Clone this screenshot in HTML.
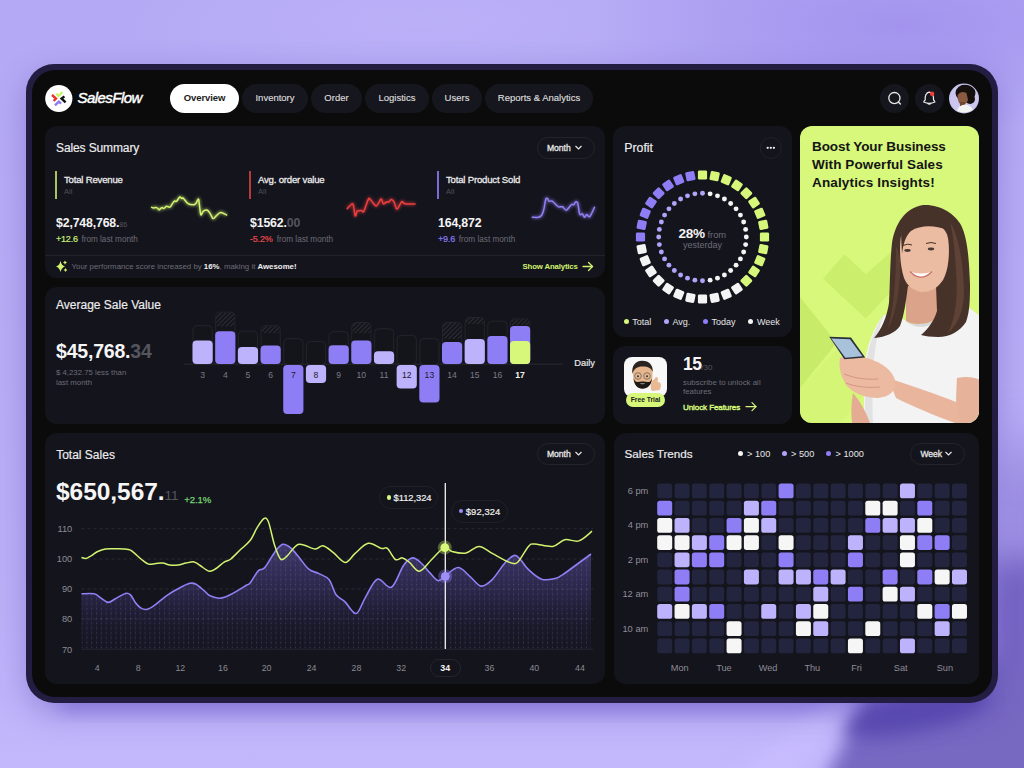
<!DOCTYPE html><html><head><meta charset="utf-8"><style>
*{margin:0;padding:0;box-sizing:border-box}
html,body{width:1024px;height:768px;overflow:hidden}
body{font-family:"Liberation Sans",sans-serif;position:relative;background:#b7acf4}
.a{position:absolute}
.card{position:absolute;background:#14141d;border-radius:12px}
.t{position:absolute;white-space:nowrap;line-height:1}
.pill{position:absolute;border-radius:15px;background:#17171f}
</style></head><body>

<div class="a" style="left:0;top:0;width:1024px;height:768px;background:linear-gradient(180deg,#b4a9f4 0%,#b8acf6 40%,#bcb0f8 80%,#c3b8fc 100%)"></div>
<div class="a" style="left:0;top:0;width:1024px;height:768px;background:radial-gradient(ellipse 320px 110px at 900px 25px,rgba(145,125,232,.5),rgba(145,125,232,0))"></div>
<div class="a" style="left:0;top:0;width:1024px;height:768px;background:radial-gradient(ellipse 300px 80px at 420px 20px,rgba(200,190,255,.35),rgba(200,190,255,0))"></div>
<svg class="a" style="left:0;top:0" width="1024" height="768"><defs>
<filter id="bgb" x="-50%" y="-50%" width="200%" height="200%"><feGaussianBlur stdDeviation="16"/></filter>
<filter id="bgb2" x="-50%" y="-50%" width="200%" height="200%"><feGaussianBlur stdDeviation="9"/></filter>
<filter id="bgb3" x="-50%" y="-50%" width="200%" height="200%"><feGaussianBlur stdDeviation="30"/></filter></defs>
<rect x="1005" y="450" width="60" height="350" fill="#8272d0" opacity=".8" filter="url(#bgb3)"/>
<rect x="990" y="560" width="60" height="240" fill="#7464c2" filter="url(#bgb)"/>
<rect x="60" y="690" width="900" height="22" fill="#9282e8" opacity=".75" filter="url(#bgb2)"/>
<path d="M865,700 L1060,640 L1060,800 L815,800 Z" fill="#7767c2" filter="url(#bgb2)"/>
<ellipse cx="915" cy="712" rx="75" ry="20" transform="rotate(-12 915 712)" fill="#5848b0" opacity=".9" filter="url(#bgb2)"/>
<path d="M700,800 L835,700 L860,703 L770,800 Z" fill="#cbbfff" opacity=".55" filter="url(#bgb2)"/>
</svg>

<div class="a" style="left:25.5px;top:64px;width:972.5px;height:639px;border-radius:28px;background:#231e41;box-shadow:0 10px 30px rgba(80,60,170,.35)"></div>
<div class="a" style="left:32px;top:70px;width:960px;height:627px;border-radius:23px;background:#0b0b0b"></div>

<svg class="a" style="left:0;top:0" width="1024" height="130">
<circle cx="58.8" cy="98.5" r="13.6" fill="#fff"/>
<g stroke-width="2.4" fill="none" stroke-linecap="butt" stroke-linejoin="miter">
<polyline points="52,95 56,98.5 53.6,101" stroke="#e8322f"/>
<polyline points="56.4,93.6 58.5,96 62.5,92" stroke="#c8f56a"/>
<polyline points="64.4,96.4 61.6,98.5 65.6,102.3" stroke="#111"/>
<polyline points="61.1,103.7 58.8,101.6 55,105.4" stroke="#8b7cf6"/>
</g>
</svg>
<div class="t" style="left:77.50px;top:90.30px;font-size:15px;color:#fff;font-weight:normal;letter-spacing:-0.55px;font-style:italic;-webkit-text-stroke:0.45px #fff;">SalesFlow</div>
<div class="pill" style="left:170px;top:84px;width:69px;height:29px;background:#fff"></div>
<div class="t" style="left:204.50px;top:93.10px;font-size:9.5px;color:#1b1b1b;font-weight:bold;letter-spacing:-0.1px;transform:translateX(-50%);">Overview</div>
<div class="pill" style="left:242px;top:84px;width:66px;height:29px;background:#16161e"></div>
<div class="t" style="left:275.00px;top:93.10px;font-size:9.5px;color:#dcdcdc;font-weight:normal;letter-spacing:0px;transform:translateX(-50%);-webkit-text-stroke:0.15px #dcdcdc;">Inventory</div>
<div class="pill" style="left:311px;top:84px;width:51px;height:29px;background:#16161e"></div>
<div class="t" style="left:336.50px;top:93.10px;font-size:9.5px;color:#dcdcdc;font-weight:normal;letter-spacing:0px;transform:translateX(-50%);-webkit-text-stroke:0.15px #dcdcdc;">Order</div>
<div class="pill" style="left:365px;top:84px;width:64px;height:29px;background:#16161e"></div>
<div class="t" style="left:397.00px;top:93.10px;font-size:9.5px;color:#dcdcdc;font-weight:normal;letter-spacing:0px;transform:translateX(-50%);-webkit-text-stroke:0.15px #dcdcdc;">Logistics</div>
<div class="pill" style="left:432px;top:84px;width:50px;height:29px;background:#16161e"></div>
<div class="t" style="left:457.00px;top:93.10px;font-size:9.5px;color:#dcdcdc;font-weight:normal;letter-spacing:0px;transform:translateX(-50%);-webkit-text-stroke:0.15px #dcdcdc;">Users</div>
<div class="pill" style="left:485px;top:84px;width:108px;height:29px;background:#16161e"></div>
<div class="t" style="left:539.00px;top:93.10px;font-size:9.5px;color:#dcdcdc;font-weight:normal;letter-spacing:0px;transform:translateX(-50%);-webkit-text-stroke:0.15px #dcdcdc;">Reports &amp; Analytics</div>
<svg class="a" style="left:0;top:0" width="1024" height="130">
<circle cx="894.5" cy="98.5" r="14.5" fill="#16161e"/>
<circle cx="929.5" cy="98.5" r="14.5" fill="#16161e"/>
<circle cx="894.4" cy="98.1" r="5.6" fill="none" stroke="#e8e8e8" stroke-width="1.3"/>
<line x1="898.6" y1="102.3" x2="900.4" y2="104.1" stroke="#e8e8e8" stroke-width="1.4" stroke-linecap="round"/>
<path d="M925.2,99.8 C924.8,96.5 926,92.3 929.3,92.1 C932.6,92.3 933.8,96.5 933.5,99.8 C934.2,100.8 935,101.2 934.8,102 C931.8,103.4 926.8,103.4 923.8,102 C923.6,101.2 924.5,100.8 925.2,99.8 Z" fill="none" stroke="#eee" stroke-width="1.2" stroke-linejoin="round"/>
<path d="M927.4,103.4 Q929.3,105 931.2,103.4" fill="none" stroke="#eee" stroke-width="1.2"/>
<circle cx="932.1" cy="93.8" r="2.3" fill="#ef3b3b"/>
<circle cx="964" cy="98.5" r="15" fill="#c5c2ea"/>
<clipPath id="avc"><circle cx="964" cy="98.5" r="14"/></clipPath>
<g clip-path="url(#avc)">
<circle cx="964" cy="98.5" r="14" fill="#cac6f0"/>
<ellipse cx="965.5" cy="93" rx="10" ry="8.5" fill="#15100d"/>
<ellipse cx="970" cy="99" rx="5" ry="5" fill="#15100d"/>
<path d="M957.5 95 Q961 90 966.5 93 L968 100 Q966 105.5 961.5 105 Q957.5 103 957.5 95Z" fill="#8a5a40"/>
<rect x="960" y="102" width="5" height="4" fill="#6f4630"/>
<path d="M956 115 Q957 105 965 104.5 Q973 105 975 115 Z" fill="#f3f3f3"/>
</g>
</svg>
<div class="card" style="left:45px;top:126px;width:560px;height:152px"></div>
<div class="card" style="left:45px;top:287px;width:560px;height:137px"></div>
<div class="card" style="left:45px;top:433px;width:560px;height:251px"></div>
<div class="card" style="left:613px;top:126px;width:179px;height:211px"></div>
<div class="card" style="left:613px;top:346px;width:179px;height:78px"></div>
<div class="card" style="left:614px;top:433px;width:365px;height:251px"></div>
<div class="t" style="left:56.00px;top:142.30px;font-size:12px;color:#ececec;font-weight:normal;letter-spacing:-0.12px;-webkit-text-stroke:0.18px #ececec;">Sales Summary</div>
<div class="pill" style="left:537px;top:137px;width:58px;height:22px;border-radius:11px;background:#14141c;border:1px solid #23232c"></div>
<div class="t" style="left:547.00px;top:144.20px;font-size:8.6px;color:#e6e6e6;font-weight:normal;letter-spacing:-0.05px;-webkit-text-stroke:0.3px #e6e6e6;">Month</div>
<svg class="a" style="left:574px;top:144px" width="10" height="8"><polyline points="1.5,2 4.5,5 7.5,2" fill="none" stroke="#e6e6e6" stroke-width="1.2"/></svg>
<div class="a" style="left:55px;top:171px;width:2px;height:28px;background:#a7c45f"></div>
<div class="t" style="left:64.00px;top:175.20px;font-size:9.6px;color:#ececec;font-weight:normal;letter-spacing:-0.2px;-webkit-text-stroke:0.28px #ececec;">Total Revenue</div>
<div class="t" style="left:64.00px;top:188.20px;font-size:7.5px;color:#4f4f58;font-weight:normal;letter-spacing:0px;">All</div>
<div class="t" style="left:56px;top:217.00px;font-size:12.3px;font-weight:bold;color:#f4f4f4;letter-spacing:-0.15px">$2,748,768.<span style="font-size:7.2px;color:#55555e;font-weight:normal;letter-spacing:0">86</span></div>
<div class="t" style="left:56.00px;top:234.70px;font-size:9px;color:#c6f27a;font-weight:normal;letter-spacing:-0.2px;-webkit-text-stroke:0.2px #c6f27a;">+12.6</div>
<div class="a" style="left:249px;top:171px;width:2px;height:28px;background:#b83b3b"></div>
<div class="t" style="left:258.00px;top:175.20px;font-size:9.6px;color:#ececec;font-weight:normal;letter-spacing:-0.2px;-webkit-text-stroke:0.28px #ececec;">Avg. order value</div>
<div class="t" style="left:258.00px;top:188.20px;font-size:7.5px;color:#4f4f58;font-weight:normal;letter-spacing:0px;">All</div>
<div class="t" style="left:250px;top:217.00px;font-size:12.3px;font-weight:bold;color:#f4f4f4;letter-spacing:-0.15px">$1562.<span style="font-size:12.3px;color:#55555e;font-weight:bold;letter-spacing:0">00</span></div>
<div class="t" style="left:250.00px;top:234.70px;font-size:9px;color:#e84848;font-weight:normal;letter-spacing:-0.2px;-webkit-text-stroke:0.2px #e84848;">-5.2%</div>
<div class="a" style="left:437px;top:171px;width:2px;height:28px;background:#7b6bd8"></div>
<div class="t" style="left:446.00px;top:175.20px;font-size:9.6px;color:#ececec;font-weight:normal;letter-spacing:-0.2px;-webkit-text-stroke:0.28px #ececec;">Total Product Sold</div>
<div class="t" style="left:446.00px;top:188.20px;font-size:7.5px;color:#4f4f58;font-weight:normal;letter-spacing:0px;">All</div>
<div class="t" style="left:438px;top:217.00px;font-size:12.3px;font-weight:bold;color:#f4f4f4;letter-spacing:-0.15px">164,872<span style="font-size:12.3px;color:#55555e;font-weight:bold;letter-spacing:0"></span></div>
<div class="t" style="left:438.00px;top:234.70px;font-size:9px;color:#8b7cf6;font-weight:normal;letter-spacing:-0.2px;-webkit-text-stroke:0.2px #8b7cf6;">+9.6</div>
<div class="t" style="left:81.40px;top:235.50px;font-size:8.2px;color:#6c6c75;font-weight:normal;letter-spacing:0px;">from last month</div>
<div class="t" style="left:276.70px;top:235.50px;font-size:8.2px;color:#6c6c75;font-weight:normal;letter-spacing:0px;">from last month</div>
<div class="t" style="left:458.80px;top:235.50px;font-size:8.2px;color:#6c6c75;font-weight:normal;letter-spacing:0px;">from last month</div>
<svg class="a" style="left:0;top:0" width="1024" height="300"><defs><filter id="glow" x="-20%" y="-50%" width="140%" height="200%"><feGaussianBlur stdDeviation="1.6"/></filter></defs>
<path d="M151.60,207.30 C151.85,207.41 152.72,207.99 153.30,208.00 C153.89,208.01 154.90,207.40 155.50,207.40 C156.10,207.40 156.78,207.64 157.30,208.00 C157.83,208.36 158.47,209.75 159.00,209.80 C159.53,209.85 160.34,208.63 160.80,208.30 C161.27,207.97 161.63,207.57 162.10,207.60 C162.56,207.63 163.24,208.69 163.90,208.50 C164.56,208.31 165.59,206.51 166.50,206.30 C167.41,206.09 169.15,207.44 170.00,207.10 C170.85,206.75 171.54,204.88 172.20,204.00 C172.86,203.12 173.74,201.62 174.40,201.20 C175.06,200.78 175.81,201.83 176.60,201.20 C177.39,200.57 178.90,197.39 179.70,197.00 C180.50,196.61 181.38,198.44 181.90,198.60 C182.43,198.76 182.28,197.35 183.20,198.10 C184.11,198.85 186.41,202.59 188.00,203.60 C189.59,204.60 192.60,204.86 193.80,204.80 C195.00,204.74 195.34,204.04 196.00,203.20 C196.66,202.36 197.75,199.47 198.20,199.20 C198.65,198.93 198.61,199.09 199.00,201.40 C199.39,203.71 200.14,213.14 200.80,214.60 C201.46,216.06 202.41,211.76 203.40,211.10 C204.39,210.44 206.34,209.73 207.40,210.20 C208.47,210.66 209.65,212.94 210.50,214.20 C211.35,215.46 212.25,218.34 213.10,218.60 C213.95,218.85 215.07,216.83 216.20,215.90 C217.32,214.97 219.03,212.53 220.60,212.40 C222.17,212.27 225.78,214.61 226.70,215.00" fill="none" stroke="#d2f36f" stroke-width="3.2" stroke-opacity=".5" filter="url(#glow)" stroke-linejoin="round"/>
<path d="M151.60,207.30 C151.85,207.41 152.72,207.99 153.30,208.00 C153.89,208.01 154.90,207.40 155.50,207.40 C156.10,207.40 156.78,207.64 157.30,208.00 C157.83,208.36 158.47,209.75 159.00,209.80 C159.53,209.85 160.34,208.63 160.80,208.30 C161.27,207.97 161.63,207.57 162.10,207.60 C162.56,207.63 163.24,208.69 163.90,208.50 C164.56,208.31 165.59,206.51 166.50,206.30 C167.41,206.09 169.15,207.44 170.00,207.10 C170.85,206.75 171.54,204.88 172.20,204.00 C172.86,203.12 173.74,201.62 174.40,201.20 C175.06,200.78 175.81,201.83 176.60,201.20 C177.39,200.57 178.90,197.39 179.70,197.00 C180.50,196.61 181.38,198.44 181.90,198.60 C182.43,198.76 182.28,197.35 183.20,198.10 C184.11,198.85 186.41,202.59 188.00,203.60 C189.59,204.60 192.60,204.86 193.80,204.80 C195.00,204.74 195.34,204.04 196.00,203.20 C196.66,202.36 197.75,199.47 198.20,199.20 C198.65,198.93 198.61,199.09 199.00,201.40 C199.39,203.71 200.14,213.14 200.80,214.60 C201.46,216.06 202.41,211.76 203.40,211.10 C204.39,210.44 206.34,209.73 207.40,210.20 C208.47,210.66 209.65,212.94 210.50,214.20 C211.35,215.46 212.25,218.34 213.10,218.60 C213.95,218.85 215.07,216.83 216.20,215.90 C217.32,214.97 219.03,212.53 220.60,212.40 C222.17,212.27 225.78,214.61 226.70,215.00" fill="none" stroke="#d2f36f" stroke-width="1.5" stroke-linejoin="round" stroke-linecap="round"/>
<path d="M347.20,208.60 C347.88,207.92 350.77,204.61 351.70,204.10 C352.63,203.59 352.88,203.44 353.40,205.20 C353.92,206.95 354.63,214.92 355.20,215.80 C355.77,216.69 356.56,211.87 357.20,211.10 C357.84,210.33 358.86,210.79 359.50,210.70 C360.14,210.61 360.86,210.41 361.50,210.50 C362.14,210.59 362.75,213.03 363.80,211.30 C364.85,209.58 367.44,200.66 368.50,199.00 C369.56,197.34 369.73,199.15 370.90,200.20 C372.07,201.25 374.79,206.18 376.30,206.00 C377.81,205.82 379.94,199.31 381.00,199.00 C382.06,198.69 382.51,203.50 383.40,203.90 C384.28,204.31 386.09,201.97 386.90,201.70 C387.71,201.43 388.16,202.44 388.80,202.10 C389.44,201.75 390.44,199.46 391.20,199.40 C391.96,199.34 393.03,200.25 393.90,201.70 C394.77,203.15 395.83,209.10 397.00,209.10 C398.17,209.10 400.53,202.51 401.70,201.70 C402.87,200.89 402.81,203.37 404.80,203.70 C406.80,204.03 413.47,203.87 415.00,203.90" fill="none" stroke="#f03e3e" stroke-width="3.2" stroke-opacity=".5" filter="url(#glow)" stroke-linejoin="round"/>
<path d="M347.20,208.60 C347.88,207.92 350.77,204.61 351.70,204.10 C352.63,203.59 352.88,203.44 353.40,205.20 C353.92,206.95 354.63,214.92 355.20,215.80 C355.77,216.69 356.56,211.87 357.20,211.10 C357.84,210.33 358.86,210.79 359.50,210.70 C360.14,210.61 360.86,210.41 361.50,210.50 C362.14,210.59 362.75,213.03 363.80,211.30 C364.85,209.58 367.44,200.66 368.50,199.00 C369.56,197.34 369.73,199.15 370.90,200.20 C372.07,201.25 374.79,206.18 376.30,206.00 C377.81,205.82 379.94,199.31 381.00,199.00 C382.06,198.69 382.51,203.50 383.40,203.90 C384.28,204.31 386.09,201.97 386.90,201.70 C387.71,201.43 388.16,202.44 388.80,202.10 C389.44,201.75 390.44,199.46 391.20,199.40 C391.96,199.34 393.03,200.25 393.90,201.70 C394.77,203.15 395.83,209.10 397.00,209.10 C398.17,209.10 400.53,202.51 401.70,201.70 C402.87,200.89 402.81,203.37 404.80,203.70 C406.80,204.03 413.47,203.87 415.00,203.90" fill="none" stroke="#f03e3e" stroke-width="1.5" stroke-linejoin="round" stroke-linecap="round"/>
<path d="M532.20,217.30 C533.18,217.30 537.26,217.65 538.70,217.30 C540.14,216.96 541.03,216.17 541.80,215.00 C542.56,213.83 543.21,211.84 543.80,209.50 C544.38,207.16 545.18,201.06 545.70,199.40 C546.23,197.74 546.77,198.12 547.30,198.40 C547.82,198.69 548.45,200.90 549.20,201.30 C549.95,201.71 550.95,200.31 552.30,201.10 C553.65,201.89 556.67,205.75 558.20,206.60 C559.73,207.45 561.27,206.26 562.50,206.80 C563.73,207.34 565.05,210.54 566.40,210.20 C567.75,209.85 570.39,205.31 571.50,204.50 C572.61,203.69 573.21,205.16 573.80,204.80 C574.38,204.44 574.81,202.38 575.40,202.10 C575.99,201.81 577.06,201.09 577.70,202.90 C578.35,204.72 579.00,212.56 579.70,214.20 C580.41,215.83 581.68,213.34 582.40,213.80 C583.12,214.27 583.86,217.18 584.50,217.30 C585.14,217.42 585.91,214.70 586.70,214.60 C587.50,214.50 588.63,217.71 589.80,216.60 C590.97,215.49 593.79,208.61 594.50,207.20" fill="none" stroke="#8f80f5" stroke-width="3.2" stroke-opacity=".5" filter="url(#glow)" stroke-linejoin="round"/>
<path d="M532.20,217.30 C533.18,217.30 537.26,217.65 538.70,217.30 C540.14,216.96 541.03,216.17 541.80,215.00 C542.56,213.83 543.21,211.84 543.80,209.50 C544.38,207.16 545.18,201.06 545.70,199.40 C546.23,197.74 546.77,198.12 547.30,198.40 C547.82,198.69 548.45,200.90 549.20,201.30 C549.95,201.71 550.95,200.31 552.30,201.10 C553.65,201.89 556.67,205.75 558.20,206.60 C559.73,207.45 561.27,206.26 562.50,206.80 C563.73,207.34 565.05,210.54 566.40,210.20 C567.75,209.85 570.39,205.31 571.50,204.50 C572.61,203.69 573.21,205.16 573.80,204.80 C574.38,204.44 574.81,202.38 575.40,202.10 C575.99,201.81 577.06,201.09 577.70,202.90 C578.35,204.72 579.00,212.56 579.70,214.20 C580.41,215.83 581.68,213.34 582.40,213.80 C583.12,214.27 583.86,217.18 584.50,217.30 C585.14,217.42 585.91,214.70 586.70,214.60 C587.50,214.50 588.63,217.71 589.80,216.60 C590.97,215.49 593.79,208.61 594.50,207.20" fill="none" stroke="#8f80f5" stroke-width="1.5" stroke-linejoin="round" stroke-linecap="round"/>
<path d="M60.5 261 Q61.5 265.5 65 266.5 Q61.5 267.5 60.5 272 Q59.5 267.5 56 266.5 Q59.5 265.5 60.5 261Z" fill="#d2f36f"/>
<path d="M65 260.5 Q65.4 262.2 67 262.6 Q65.4 263 65 264.7 Q64.6 263 63 262.6 Q64.6 262.2 65 260.5Z" fill="#d2f36f"/>
<path d="M65.5 268 Q65.9 269.6 67.4 270 Q65.9 270.4 65.5 272 Q65.1 270.4 63.6 270 Q65.1 269.6 65.5 268Z" fill="#d2f36f"/>
<g fill="none" stroke="#d2f36f" stroke-width="1.3" stroke-linecap="round" stroke-linejoin="round"><line x1="583" y1="266.5" x2="592.5" y2="266.5"/><polyline points="588.5,262.5 592.5,266.5 588.5,270.5"/></g>
</svg>
<div class="a" style="left:45px;top:255px;width:560px;height:1px;background:#22222b"></div>
<div class="t" style="left:71.6px;top:263.30px;font-size:7.85px;color:#6c6c75">Your performance score increased by <b style="color:#f0f0f0">16%</b>, making it <b style="color:#f0f0f0">Awesome!</b></div>
<div class="t" style="left:522.50px;top:263.30px;font-size:7.8px;color:#d2f36f;font-weight:bold;letter-spacing:-0.15px;">Show Analytics</div>
<div class="t" style="left:56.00px;top:299.20px;font-size:12px;color:#ececec;font-weight:normal;letter-spacing:0px;-webkit-text-stroke:0.18px #ececec;">Average Sale Value</div>
<div class="t" style="left:56px;top:341.90px;font-size:19.5px;font-weight:bold;color:#f6f6f6;letter-spacing:-0.2px">$45,768.<span style="color:#55555e">34</span></div>
<div class="t" style="left:56.00px;top:368.90px;font-size:7.8px;color:#6c6c75;font-weight:normal;letter-spacing:0px;">$ 4,232.75 less than</div>
<div class="t" style="left:56.00px;top:379.20px;font-size:7.8px;color:#6c6c75;font-weight:normal;letter-spacing:0px;">last month</div>
<svg class="a" style="left:0;top:280px" width="620" height="150"><defs><pattern id="hat" width="3.2" height="3.2" patternUnits="userSpaceOnUse" patternTransform="rotate(45)"><rect width="3.2" height="3.2" fill="#14141b"/><rect width="1" height="3.2" fill="#2e2e37"/></pattern></defs>
<line x1="184" y1="84.1" x2="563" y2="84.1" stroke="#2a2a33" stroke-width="1"/>
<rect x="193.00" y="45.70" width="19.20" height="38.80" rx="4" fill="#14141b" stroke="#24242c" stroke-width="1"/>
<rect x="192.50" y="60.50" width="20.20" height="23.50" rx="4" fill="#bdb2fc"/>
<rect x="215.68" y="32.20" width="19.20" height="52.30" rx="4" fill="#14141b" stroke="#24242c" stroke-width="1"/>
<clipPath id="hc4"><rect x="216.18" y="32.70" width="18.20" height="14.00" rx="3.5"/></clipPath><rect x="215.18" y="31.70" width="20.20" height="15.00" fill="url(#hat)" clip-path="url(#hc4)"/>
<rect x="215.18" y="51.20" width="20.20" height="32.80" rx="4" fill="#8d7ef6"/>
<rect x="238.36" y="51.20" width="19.20" height="33.30" rx="4" fill="#14141b" stroke="#24242c" stroke-width="1"/>
<rect x="237.86" y="66.90" width="20.20" height="17.10" rx="4" fill="#bdb2fc"/>
<rect x="261.04" y="45.70" width="19.20" height="38.80" rx="4" fill="#14141b" stroke="#24242c" stroke-width="1"/>
<clipPath id="hc6"><rect x="261.54" y="46.20" width="18.20" height="7.20" rx="3.5"/></clipPath><rect x="260.54" y="45.20" width="20.20" height="8.20" fill="url(#hat)" clip-path="url(#hc6)"/>
<rect x="260.54" y="65.40" width="20.20" height="18.60" rx="4" fill="#8d7ef6"/>
<rect x="283.72" y="58.70" width="19.20" height="25.80" rx="4" fill="#14141b" stroke="#24242c" stroke-width="1"/>
<rect x="283.22" y="84.90" width="20.20" height="49.10" rx="4" fill="#8d7ef6"/>
<rect x="306.40" y="61.40" width="19.20" height="23.10" rx="4" fill="#14141b" stroke="#24242c" stroke-width="1"/>
<rect x="305.90" y="84.90" width="20.20" height="18.20" rx="4" fill="#bdb2fc"/>
<rect x="329.08" y="51.70" width="19.20" height="32.80" rx="4" fill="#14141b" stroke="#24242c" stroke-width="1"/>
<rect x="328.58" y="65.30" width="20.20" height="18.70" rx="4" fill="#8d7ef6"/>
<rect x="351.76" y="42.50" width="19.20" height="42.00" rx="4" fill="#14141b" stroke="#24242c" stroke-width="1"/>
<clipPath id="hc10"><rect x="352.26" y="43.00" width="18.20" height="10.40" rx="3.5"/></clipPath><rect x="351.26" y="42.00" width="20.20" height="11.40" fill="url(#hat)" clip-path="url(#hc10)"/>
<rect x="351.26" y="60.50" width="20.20" height="23.50" rx="4" fill="#8d7ef6"/>
<rect x="374.44" y="48.80" width="19.20" height="35.70" rx="4" fill="#14141b" stroke="#24242c" stroke-width="1"/>
<rect x="373.94" y="71.30" width="20.20" height="12.70" rx="4" fill="#bdb2fc"/>
<rect x="397.12" y="55.30" width="19.20" height="29.20" rx="4" fill="#14141b" stroke="#24242c" stroke-width="1"/>
<rect x="396.62" y="84.90" width="20.20" height="23.50" rx="4" fill="#bdb2fc"/>
<rect x="419.80" y="58.70" width="19.20" height="25.80" rx="4" fill="#14141b" stroke="#24242c" stroke-width="1"/>
<rect x="419.30" y="84.90" width="20.20" height="37.60" rx="4" fill="#8d7ef6"/>
<rect x="442.48" y="42.50" width="19.20" height="42.00" rx="4" fill="#14141b" stroke="#24242c" stroke-width="1"/>
<clipPath id="hc14"><rect x="442.98" y="43.00" width="18.20" height="16.00" rx="3.5"/></clipPath><rect x="441.98" y="42.00" width="20.20" height="17.00" fill="url(#hat)" clip-path="url(#hc14)"/>
<rect x="441.98" y="61.90" width="20.20" height="22.10" rx="4" fill="#8d7ef6"/>
<rect x="465.16" y="37.50" width="19.20" height="47.00" rx="4" fill="#14141b" stroke="#24242c" stroke-width="1"/>
<clipPath id="hc15"><rect x="465.66" y="38.00" width="18.20" height="6.00" rx="3.5"/></clipPath><rect x="464.66" y="37.00" width="20.20" height="7.00" fill="url(#hat)" clip-path="url(#hc15)"/>
<rect x="464.66" y="59.00" width="20.20" height="25.00" rx="4" fill="#bdb2fc"/>
<rect x="487.84" y="41.20" width="19.20" height="43.30" rx="4" fill="#14141b" stroke="#24242c" stroke-width="1"/>
<rect x="487.34" y="56.00" width="20.20" height="28.00" rx="4" fill="#8d7ef6"/>
<rect x="510.52" y="38.90" width="19.20" height="45.60" rx="4" fill="#14141b" stroke="#24242c" stroke-width="1"/>
<clipPath id="hc17"><rect x="511.02" y="39.40" width="18.20" height="6.10" rx="3.5"/></clipPath><rect x="510.02" y="38.40" width="20.20" height="7.10" fill="url(#hat)" clip-path="url(#hc17)"/>
<rect x="510.02" y="46.00" width="20.20" height="38.00" rx="4" fill="#8d7ef6"/>
<rect x="510.02" y="61.00" width="20.20" height="23.00" rx="4" fill="#d6f77a"/>
</svg>
<div class="t" style="left:202.60px;top:371.00px;font-size:8.6px;color:#7b7b84;font-weight:normal;letter-spacing:0px;transform:translateX(-50%);">3</div>
<div class="t" style="left:225.28px;top:371.00px;font-size:8.6px;color:#7b7b84;font-weight:normal;letter-spacing:0px;transform:translateX(-50%);">4</div>
<div class="t" style="left:247.96px;top:371.00px;font-size:8.6px;color:#7b7b84;font-weight:normal;letter-spacing:0px;transform:translateX(-50%);">5</div>
<div class="t" style="left:270.64px;top:371.00px;font-size:8.6px;color:#7b7b84;font-weight:normal;letter-spacing:0px;transform:translateX(-50%);">6</div>
<div class="t" style="left:293.32px;top:371.00px;font-size:8.6px;color:#1d1d28;font-weight:normal;letter-spacing:0px;transform:translateX(-50%);">7</div>
<div class="t" style="left:316.00px;top:371.00px;font-size:8.6px;color:#1d1d28;font-weight:normal;letter-spacing:0px;transform:translateX(-50%);">8</div>
<div class="t" style="left:338.68px;top:371.00px;font-size:8.6px;color:#7b7b84;font-weight:normal;letter-spacing:0px;transform:translateX(-50%);">9</div>
<div class="t" style="left:361.36px;top:371.00px;font-size:8.6px;color:#7b7b84;font-weight:normal;letter-spacing:0px;transform:translateX(-50%);">10</div>
<div class="t" style="left:384.04px;top:371.00px;font-size:8.6px;color:#7b7b84;font-weight:normal;letter-spacing:0px;transform:translateX(-50%);">11</div>
<div class="t" style="left:406.72px;top:371.00px;font-size:8.6px;color:#1d1d28;font-weight:normal;letter-spacing:0px;transform:translateX(-50%);">12</div>
<div class="t" style="left:429.40px;top:371.00px;font-size:8.6px;color:#1d1d28;font-weight:normal;letter-spacing:0px;transform:translateX(-50%);">13</div>
<div class="t" style="left:452.08px;top:371.00px;font-size:8.6px;color:#7b7b84;font-weight:normal;letter-spacing:0px;transform:translateX(-50%);">14</div>
<div class="t" style="left:474.76px;top:371.00px;font-size:8.6px;color:#7b7b84;font-weight:normal;letter-spacing:0px;transform:translateX(-50%);">15</div>
<div class="t" style="left:497.44px;top:371.00px;font-size:8.6px;color:#7b7b84;font-weight:normal;letter-spacing:0px;transform:translateX(-50%);">16</div>
<div class="t" style="left:520.12px;top:371.00px;font-size:8.6px;color:#f4f4f4;font-weight:bold;letter-spacing:0px;transform:translateX(-50%);">17</div>
<div class="t" style="left:574.30px;top:359.30px;font-size:9.3px;color:#e6e6e6;font-weight:normal;letter-spacing:0px;-webkit-text-stroke:0.2px #e6e6e6;">Daily</div>
<div class="t" style="left:624.30px;top:142.00px;font-size:12.3px;color:#ececec;font-weight:normal;letter-spacing:0px;-webkit-text-stroke:0.18px #ececec;">Profit</div>
<svg class="a" style="left:600px;top:120px" width="200" height="220">
<circle cx="170.8" cy="28" r="10.5" fill="none" stroke="#22222a" stroke-width="1"/>
<circle cx="167.70000000000002" cy="27.8" r="1.15" fill="#eee"/>
<circle cx="170.8" cy="27.8" r="1.15" fill="#eee"/>
<circle cx="173.9" cy="27.8" r="1.15" fill="#eee"/>
<rect x="-4.6" y="-4.6" width="9.2" height="9.2" rx="1.4" fill="#d6f77a" transform="translate(102.50,55.00) rotate(0.0)"/>
<rect x="-4.6" y="-4.6" width="9.2" height="9.2" rx="1.4" fill="#d6f77a" transform="translate(114.60,56.19) rotate(11.25)"/>
<rect x="-4.6" y="-4.6" width="9.2" height="9.2" rx="1.4" fill="#d6f77a" transform="translate(126.23,59.72) rotate(22.5)"/>
<rect x="-4.6" y="-4.6" width="9.2" height="9.2" rx="1.4" fill="#d6f77a" transform="translate(136.95,65.45) rotate(33.75)"/>
<rect x="-4.6" y="-4.6" width="9.2" height="9.2" rx="1.4" fill="#d6f77a" transform="translate(146.34,73.16) rotate(45.0)"/>
<rect x="-4.6" y="-4.6" width="9.2" height="9.2" rx="1.4" fill="#d6f77a" transform="translate(154.05,82.55) rotate(56.25)"/>
<rect x="-4.6" y="-4.6" width="9.2" height="9.2" rx="1.4" fill="#d6f77a" transform="translate(159.78,93.27) rotate(67.5)"/>
<rect x="-4.6" y="-4.6" width="9.2" height="9.2" rx="1.4" fill="#d6f77a" transform="translate(163.31,104.90) rotate(78.75)"/>
<rect x="-4.6" y="-4.6" width="9.2" height="9.2" rx="1.4" fill="#d6f77a" transform="translate(164.50,117.00) rotate(90.0)"/>
<rect x="-4.6" y="-4.6" width="9.2" height="9.2" rx="1.4" fill="#d6f77a" transform="translate(163.31,129.10) rotate(101.25)"/>
<rect x="-4.6" y="-4.6" width="9.2" height="9.2" rx="1.4" fill="#d6f77a" transform="translate(159.78,140.73) rotate(112.5)"/>
<rect x="-4.6" y="-4.6" width="9.2" height="9.2" rx="1.4" fill="#d6f77a" transform="translate(154.05,151.45) rotate(123.75)"/>
<rect x="-4.6" y="-4.6" width="9.2" height="9.2" rx="1.4" fill="#d6f77a" transform="translate(146.34,160.84) rotate(135.0)"/>
<rect x="-4.6" y="-4.6" width="9.2" height="9.2" rx="1.4" fill="#f4f4f4" transform="translate(136.95,168.55) rotate(146.25)"/>
<rect x="-4.6" y="-4.6" width="9.2" height="9.2" rx="1.4" fill="#f4f4f4" transform="translate(126.23,174.28) rotate(157.5)"/>
<rect x="-4.6" y="-4.6" width="9.2" height="9.2" rx="1.4" fill="#f4f4f4" transform="translate(114.60,177.81) rotate(168.75)"/>
<rect x="-4.6" y="-4.6" width="9.2" height="9.2" rx="1.4" fill="#f4f4f4" transform="translate(102.50,179.00) rotate(180.0)"/>
<rect x="-4.6" y="-4.6" width="9.2" height="9.2" rx="1.4" fill="#f4f4f4" transform="translate(90.40,177.81) rotate(191.25)"/>
<rect x="-4.6" y="-4.6" width="9.2" height="9.2" rx="1.4" fill="#f4f4f4" transform="translate(78.77,174.28) rotate(202.5)"/>
<rect x="-4.6" y="-4.6" width="9.2" height="9.2" rx="1.4" fill="#f4f4f4" transform="translate(68.05,168.55) rotate(213.75)"/>
<rect x="-4.6" y="-4.6" width="9.2" height="9.2" rx="1.4" fill="#f4f4f4" transform="translate(58.66,160.84) rotate(225.0)"/>
<rect x="-4.6" y="-4.6" width="9.2" height="9.2" rx="1.4" fill="#f4f4f4" transform="translate(50.95,151.45) rotate(236.25)"/>
<rect x="-4.6" y="-4.6" width="9.2" height="9.2" rx="1.4" fill="#f4f4f4" transform="translate(45.22,140.73) rotate(247.5)"/>
<rect x="-4.6" y="-4.6" width="9.2" height="9.2" rx="1.4" fill="#f4f4f4" transform="translate(41.69,129.10) rotate(258.75)"/>
<rect x="-4.6" y="-4.6" width="9.2" height="9.2" rx="1.4" fill="#8d7ef6" transform="translate(40.50,117.00) rotate(270.0)"/>
<rect x="-4.6" y="-4.6" width="9.2" height="9.2" rx="1.4" fill="#8d7ef6" transform="translate(41.69,104.90) rotate(281.25)"/>
<rect x="-4.6" y="-4.6" width="9.2" height="9.2" rx="1.4" fill="#8d7ef6" transform="translate(45.22,93.27) rotate(292.5)"/>
<rect x="-4.6" y="-4.6" width="9.2" height="9.2" rx="1.4" fill="#8d7ef6" transform="translate(50.95,82.55) rotate(303.75)"/>
<rect x="-4.6" y="-4.6" width="9.2" height="9.2" rx="1.4" fill="#8d7ef6" transform="translate(58.66,73.16) rotate(315.0)"/>
<rect x="-4.6" y="-4.6" width="9.2" height="9.2" rx="1.4" fill="#8d7ef6" transform="translate(68.05,65.45) rotate(326.25)"/>
<rect x="-4.6" y="-4.6" width="9.2" height="9.2" rx="1.4" fill="#8d7ef6" transform="translate(78.77,59.72) rotate(337.5)"/>
<rect x="-4.6" y="-4.6" width="9.2" height="9.2" rx="1.4" fill="#8d7ef6" transform="translate(90.40,56.19) rotate(348.75)"/>
<circle cx="102.50" cy="73.20" r="2.45" fill="#b0a3fa"/>
<circle cx="110.11" cy="73.87" r="2.45" fill="#f4f4f4"/>
<circle cx="117.48" cy="75.84" r="2.45" fill="#f4f4f4"/>
<circle cx="124.40" cy="79.07" r="2.45" fill="#f4f4f4"/>
<circle cx="130.65" cy="83.45" r="2.45" fill="#f4f4f4"/>
<circle cx="136.05" cy="88.85" r="2.45" fill="#f4f4f4"/>
<circle cx="140.43" cy="95.10" r="2.45" fill="#f4f4f4"/>
<circle cx="143.66" cy="102.02" r="2.45" fill="#f4f4f4"/>
<circle cx="145.63" cy="109.39" r="2.45" fill="#f4f4f4"/>
<circle cx="146.30" cy="117.00" r="2.45" fill="#f4f4f4"/>
<circle cx="145.63" cy="124.61" r="2.45" fill="#f4f4f4"/>
<circle cx="143.66" cy="131.98" r="2.45" fill="#f4f4f4"/>
<circle cx="140.43" cy="138.90" r="2.45" fill="#f4f4f4"/>
<circle cx="136.05" cy="145.15" r="2.45" fill="#f4f4f4"/>
<circle cx="130.65" cy="150.55" r="2.45" fill="#f4f4f4"/>
<circle cx="124.40" cy="154.93" r="2.45" fill="#f4f4f4"/>
<circle cx="117.48" cy="158.16" r="2.45" fill="#f4f4f4"/>
<circle cx="110.11" cy="160.13" r="2.45" fill="#f4f4f4"/>
<circle cx="102.50" cy="160.80" r="2.45" fill="#b0a3fa"/>
<circle cx="94.89" cy="160.13" r="2.45" fill="#b0a3fa"/>
<circle cx="87.52" cy="158.16" r="2.45" fill="#b0a3fa"/>
<circle cx="80.60" cy="154.93" r="2.45" fill="#b0a3fa"/>
<circle cx="74.35" cy="150.55" r="2.45" fill="#b0a3fa"/>
<circle cx="68.95" cy="145.15" r="2.45" fill="#b0a3fa"/>
<circle cx="64.57" cy="138.90" r="2.45" fill="#b0a3fa"/>
<circle cx="61.34" cy="131.98" r="2.45" fill="#b0a3fa"/>
<circle cx="59.37" cy="124.61" r="2.45" fill="#b0a3fa"/>
<circle cx="58.70" cy="117.00" r="2.45" fill="#b0a3fa"/>
<circle cx="59.37" cy="109.39" r="2.45" fill="#b0a3fa"/>
<circle cx="61.34" cy="102.02" r="2.45" fill="#b0a3fa"/>
<circle cx="64.57" cy="95.10" r="2.45" fill="#b0a3fa"/>
<circle cx="68.95" cy="88.85" r="2.45" fill="#b0a3fa"/>
<circle cx="74.35" cy="83.45" r="2.45" fill="#b0a3fa"/>
<circle cx="80.60" cy="79.07" r="2.45" fill="#b0a3fa"/>
<circle cx="87.52" cy="75.84" r="2.45" fill="#b0a3fa"/>
<circle cx="94.89" cy="73.87" r="2.45" fill="#b0a3fa"/>
</svg>
<div class="t" style="left:678.5px;top:226.80px;font-size:13.6px;font-weight:bold;color:#f4f4f4;letter-spacing:-0.3px">28%<span style="font-size:9.4px;font-weight:normal;color:#6c6c75;letter-spacing:0"> from</span></div>
<div class="t" style="left:702.50px;top:240.50px;font-size:9px;color:#6c6c75;font-weight:normal;letter-spacing:0px;transform:translateX(-50%);">yesterday</div>
<div class="a" style="left:624px;top:319px;width:5px;height:5px;border-radius:50%;background:#d6f77a"></div>
<div class="t" style="left:632.30px;top:317.60px;font-size:9px;color:#e6e6e6;font-weight:normal;letter-spacing:0px;">Total</div>
<div class="a" style="left:664px;top:319px;width:5px;height:5px;border-radius:50%;background:#b0a3fa"></div>
<div class="t" style="left:672.40px;top:317.60px;font-size:9px;color:#e6e6e6;font-weight:normal;letter-spacing:0px;">Avg.</div>
<div class="a" style="left:703px;top:319px;width:5px;height:5px;border-radius:50%;background:#8d7ef6"></div>
<div class="t" style="left:711.40px;top:317.60px;font-size:9px;color:#e6e6e6;font-weight:normal;letter-spacing:0px;">Today</div>
<div class="a" style="left:748px;top:319px;width:5px;height:5px;border-radius:50%;background:#f4f4f4"></div>
<div class="t" style="left:757.00px;top:317.60px;font-size:9px;color:#e6e6e6;font-weight:normal;letter-spacing:0px;">Week</div>
<div class="a" style="left:624px;top:357px;width:43.3px;height:39.6px;border-radius:8px;background:#f8f8f8;overflow:hidden"><svg width="44" height="40"><path d="M9 18 C8.5 10 12 5 18.5 4.8 C25 4.6 28.8 9 28.6 17 C28.5 26 25 31.5 18.5 31.5 C12 31.5 9.3 26 9 18Z" fill="#e8b68c"/><path d="M8.4 17 C7.5 9 11 4 18 3.8 C25 3.6 29 8 28.8 15 C27 11 24 9.5 18.5 9.6 C13 9.7 10 11.5 8.4 17Z" fill="#2a2320"/><path d="M9.6 21 C10 28 13.5 31.8 18.5 31.8 C23.5 31.8 27.6 28 28.2 21 C27 24.5 25 25.5 23 25 C21 24.2 16 24.2 14 25 C12 25.5 10.5 24 9.6 21Z" fill="#1d1917"/><path d="M15.5 26.3 Q18.5 28 21.5 26.3 Q18.5 26.9 15.5 26.3Z" fill="#f3e0d0"/><circle cx="14" cy="19" r="3.3" fill="none" stroke="#666" stroke-width="0.8"/><circle cx="23" cy="19" r="3.3" fill="none" stroke="#666" stroke-width="0.8"/><circle cx="14" cy="19.3" r="1" fill="#333"/><circle cx="23" cy="19.3" r="1" fill="#333"/><path d="M27 27 C27 24 29 23.5 30 22.5 C31 21 31.5 19.5 33 20 C34.5 20.5 34 23 33.5 25 L36 25.5 C37.5 27 37 31 35.5 33 L28 34 C26.5 32 26.5 29 27 27Z" fill="#e9b994"/></svg></div>
<div class="a" style="left:626px;top:393.2px;width:38.8px;height:13.5px;border-radius:7px;background:#d6f77a"></div>
<div class="t" style="left:645.60px;top:397.00px;font-size:6.8px;color:#1e1e1e;font-weight:bold;letter-spacing:-0.05px;transform:translateX(-50%);">Free Trial</div>
<div class="t" style="left:683px;top:356.00px;font-size:17.5px;font-weight:bold;color:#f6f6f6;letter-spacing:-0.6px">15<span style="font-size:8px;font-weight:normal;color:#55555e;letter-spacing:0">/30</span></div>
<div class="t" style="left:683.00px;top:378.60px;font-size:7.9px;color:#6c6c75;font-weight:normal;letter-spacing:0px;">subscribe to unlock all</div>
<div class="t" style="left:683.00px;top:388.00px;font-size:7.9px;color:#6c6c75;font-weight:normal;letter-spacing:0px;">features</div>
<div class="t" style="left:683.00px;top:403.80px;font-size:8.1px;color:#d6f77a;font-weight:normal;letter-spacing:-0.12px;-webkit-text-stroke:0.4px #d6f77a;">Unlock Features</div>
<svg class="a" style="left:743px;top:400px" width="20" height="14"><g fill="none" stroke="#d6f77a" stroke-width="1.3" stroke-linecap="round" stroke-linejoin="round"><line x1="3" y1="6.6" x2="13" y2="6.6"/><polyline points="9,2.6 13,6.6 9,10.6"/></g></svg>
<div class="t" style="left:624.50px;top:447.80px;font-size:11.7px;color:#ececec;font-weight:normal;letter-spacing:0px;-webkit-text-stroke:0.18px #ececec;">Sales Trends</div>
<div class="a" style="left:738px;top:451px;width:5px;height:5px;border-radius:50%;background:#f4f4f4"></div>
<div class="t" style="left:747.00px;top:450.00px;font-size:9.2px;color:#e6e6e6;font-weight:normal;letter-spacing:0px;">&gt; 100</div>
<div class="a" style="left:782px;top:451px;width:5px;height:5px;border-radius:50%;background:#b0a3fa"></div>
<div class="t" style="left:791.00px;top:450.00px;font-size:9.2px;color:#e6e6e6;font-weight:normal;letter-spacing:0px;">&gt; 500</div>
<div class="a" style="left:826px;top:451px;width:5px;height:5px;border-radius:50%;background:#8d7ef6"></div>
<div class="t" style="left:835.60px;top:450.00px;font-size:9.2px;color:#e6e6e6;font-weight:normal;letter-spacing:0px;">&gt; 1000</div>
<div class="pill" style="left:910px;top:443px;width:55px;height:22px;border-radius:11px;background:#14141c;border:1px solid #23232c"></div>
<div class="t" style="left:920.50px;top:450.00px;font-size:8.6px;color:#e6e6e6;font-weight:normal;letter-spacing:-0.1px;-webkit-text-stroke:0.3px #e6e6e6;">Week</div>
<svg class="a" style="left:944px;top:450px" width="10" height="8"><polyline points="1.5,2 4.5,5 7.5,2" fill="none" stroke="#e6e6e6" stroke-width="1.2"/></svg>
<svg class="a" style="left:640px;top:470px" width="340" height="200">
<rect x="17.20" y="13.50" width="15" height="14.8" rx="2.6" fill="#23243d"/>
<rect x="34.54" y="13.50" width="15" height="14.8" rx="2.6" fill="#23243d"/>
<rect x="51.88" y="13.50" width="15" height="14.8" rx="2.6" fill="#23243d"/>
<rect x="69.22" y="13.50" width="15" height="14.8" rx="2.6" fill="#23243d"/>
<rect x="86.56" y="13.50" width="15" height="14.8" rx="2.6" fill="#23243d"/>
<rect x="103.90" y="13.50" width="15" height="14.8" rx="2.6" fill="#23243d"/>
<rect x="121.24" y="13.50" width="15" height="14.8" rx="2.6" fill="#23243d"/>
<rect x="138.58" y="13.50" width="15" height="14.8" rx="2.6" fill="#8d7ef6"/>
<rect x="155.92" y="13.50" width="15" height="14.8" rx="2.6" fill="#23243d"/>
<rect x="173.26" y="13.50" width="15" height="14.8" rx="2.6" fill="#23243d"/>
<rect x="190.60" y="13.50" width="15" height="14.8" rx="2.6" fill="#23243d"/>
<rect x="207.94" y="13.50" width="15" height="14.8" rx="2.6" fill="#23243d"/>
<rect x="225.28" y="13.50" width="15" height="14.8" rx="2.6" fill="#23243d"/>
<rect x="242.62" y="13.50" width="15" height="14.8" rx="2.6" fill="#23243d"/>
<rect x="259.96" y="13.50" width="15" height="14.8" rx="2.6" fill="#bdb2fc"/>
<rect x="277.30" y="13.50" width="15" height="14.8" rx="2.6" fill="#23243d"/>
<rect x="294.64" y="13.50" width="15" height="14.8" rx="2.6" fill="#23243d"/>
<rect x="311.98" y="13.50" width="15" height="14.8" rx="2.6" fill="#23243d"/>
<rect x="17.20" y="30.72" width="15" height="14.8" rx="2.6" fill="#8d7ef6"/>
<rect x="34.54" y="30.72" width="15" height="14.8" rx="2.6" fill="#23243d"/>
<rect x="51.88" y="30.72" width="15" height="14.8" rx="2.6" fill="#23243d"/>
<rect x="69.22" y="30.72" width="15" height="14.8" rx="2.6" fill="#23243d"/>
<rect x="86.56" y="30.72" width="15" height="14.8" rx="2.6" fill="#23243d"/>
<rect x="103.90" y="30.72" width="15" height="14.8" rx="2.6" fill="#bdb2fc"/>
<rect x="121.24" y="30.72" width="15" height="14.8" rx="2.6" fill="#8d7ef6"/>
<rect x="138.58" y="30.72" width="15" height="14.8" rx="2.6" fill="#23243d"/>
<rect x="155.92" y="30.72" width="15" height="14.8" rx="2.6" fill="#23243d"/>
<rect x="173.26" y="30.72" width="15" height="14.8" rx="2.6" fill="#23243d"/>
<rect x="190.60" y="30.72" width="15" height="14.8" rx="2.6" fill="#23243d"/>
<rect x="207.94" y="30.72" width="15" height="14.8" rx="2.6" fill="#23243d"/>
<rect x="225.28" y="30.72" width="15" height="14.8" rx="2.6" fill="#f6f6f6"/>
<rect x="242.62" y="30.72" width="15" height="14.8" rx="2.6" fill="#f6f6f6"/>
<rect x="259.96" y="30.72" width="15" height="14.8" rx="2.6" fill="#23243d"/>
<rect x="277.30" y="30.72" width="15" height="14.8" rx="2.6" fill="#8d7ef6"/>
<rect x="294.64" y="30.72" width="15" height="14.8" rx="2.6" fill="#23243d"/>
<rect x="311.98" y="30.72" width="15" height="14.8" rx="2.6" fill="#23243d"/>
<rect x="17.20" y="47.94" width="15" height="14.8" rx="2.6" fill="#f6f6f6"/>
<rect x="34.54" y="47.94" width="15" height="14.8" rx="2.6" fill="#bdb2fc"/>
<rect x="51.88" y="47.94" width="15" height="14.8" rx="2.6" fill="#23243d"/>
<rect x="69.22" y="47.94" width="15" height="14.8" rx="2.6" fill="#23243d"/>
<rect x="86.56" y="47.94" width="15" height="14.8" rx="2.6" fill="#8d7ef6"/>
<rect x="103.90" y="47.94" width="15" height="14.8" rx="2.6" fill="#f6f6f6"/>
<rect x="121.24" y="47.94" width="15" height="14.8" rx="2.6" fill="#bdb2fc"/>
<rect x="138.58" y="47.94" width="15" height="14.8" rx="2.6" fill="#23243d"/>
<rect x="155.92" y="47.94" width="15" height="14.8" rx="2.6" fill="#23243d"/>
<rect x="173.26" y="47.94" width="15" height="14.8" rx="2.6" fill="#23243d"/>
<rect x="190.60" y="47.94" width="15" height="14.8" rx="2.6" fill="#23243d"/>
<rect x="207.94" y="47.94" width="15" height="14.8" rx="2.6" fill="#23243d"/>
<rect x="225.28" y="47.94" width="15" height="14.8" rx="2.6" fill="#8d7ef6"/>
<rect x="242.62" y="47.94" width="15" height="14.8" rx="2.6" fill="#bdb2fc"/>
<rect x="259.96" y="47.94" width="15" height="14.8" rx="2.6" fill="#bdb2fc"/>
<rect x="277.30" y="47.94" width="15" height="14.8" rx="2.6" fill="#f6f6f6"/>
<rect x="294.64" y="47.94" width="15" height="14.8" rx="2.6" fill="#23243d"/>
<rect x="311.98" y="47.94" width="15" height="14.8" rx="2.6" fill="#23243d"/>
<rect x="17.20" y="65.16" width="15" height="14.8" rx="2.6" fill="#f6f6f6"/>
<rect x="34.54" y="65.16" width="15" height="14.8" rx="2.6" fill="#f6f6f6"/>
<rect x="51.88" y="65.16" width="15" height="14.8" rx="2.6" fill="#bdb2fc"/>
<rect x="69.22" y="65.16" width="15" height="14.8" rx="2.6" fill="#8d7ef6"/>
<rect x="86.56" y="65.16" width="15" height="14.8" rx="2.6" fill="#f6f6f6"/>
<rect x="103.90" y="65.16" width="15" height="14.8" rx="2.6" fill="#f6f6f6"/>
<rect x="121.24" y="65.16" width="15" height="14.8" rx="2.6" fill="#23243d"/>
<rect x="138.58" y="65.16" width="15" height="14.8" rx="2.6" fill="#f6f6f6"/>
<rect x="155.92" y="65.16" width="15" height="14.8" rx="2.6" fill="#23243d"/>
<rect x="173.26" y="65.16" width="15" height="14.8" rx="2.6" fill="#23243d"/>
<rect x="190.60" y="65.16" width="15" height="14.8" rx="2.6" fill="#23243d"/>
<rect x="207.94" y="65.16" width="15" height="14.8" rx="2.6" fill="#bdb2fc"/>
<rect x="225.28" y="65.16" width="15" height="14.8" rx="2.6" fill="#23243d"/>
<rect x="242.62" y="65.16" width="15" height="14.8" rx="2.6" fill="#23243d"/>
<rect x="259.96" y="65.16" width="15" height="14.8" rx="2.6" fill="#f6f6f6"/>
<rect x="277.30" y="65.16" width="15" height="14.8" rx="2.6" fill="#8d7ef6"/>
<rect x="294.64" y="65.16" width="15" height="14.8" rx="2.6" fill="#8d7ef6"/>
<rect x="311.98" y="65.16" width="15" height="14.8" rx="2.6" fill="#23243d"/>
<rect x="17.20" y="82.38" width="15" height="14.8" rx="2.6" fill="#23243d"/>
<rect x="34.54" y="82.38" width="15" height="14.8" rx="2.6" fill="#bdb2fc"/>
<rect x="51.88" y="82.38" width="15" height="14.8" rx="2.6" fill="#8d7ef6"/>
<rect x="69.22" y="82.38" width="15" height="14.8" rx="2.6" fill="#8d7ef6"/>
<rect x="86.56" y="82.38" width="15" height="14.8" rx="2.6" fill="#23243d"/>
<rect x="103.90" y="82.38" width="15" height="14.8" rx="2.6" fill="#23243d"/>
<rect x="121.24" y="82.38" width="15" height="14.8" rx="2.6" fill="#23243d"/>
<rect x="138.58" y="82.38" width="15" height="14.8" rx="2.6" fill="#8d7ef6"/>
<rect x="155.92" y="82.38" width="15" height="14.8" rx="2.6" fill="#23243d"/>
<rect x="173.26" y="82.38" width="15" height="14.8" rx="2.6" fill="#23243d"/>
<rect x="190.60" y="82.38" width="15" height="14.8" rx="2.6" fill="#23243d"/>
<rect x="207.94" y="82.38" width="15" height="14.8" rx="2.6" fill="#8d7ef6"/>
<rect x="225.28" y="82.38" width="15" height="14.8" rx="2.6" fill="#23243d"/>
<rect x="242.62" y="82.38" width="15" height="14.8" rx="2.6" fill="#23243d"/>
<rect x="259.96" y="82.38" width="15" height="14.8" rx="2.6" fill="#f6f6f6"/>
<rect x="277.30" y="82.38" width="15" height="14.8" rx="2.6" fill="#23243d"/>
<rect x="294.64" y="82.38" width="15" height="14.8" rx="2.6" fill="#23243d"/>
<rect x="311.98" y="82.38" width="15" height="14.8" rx="2.6" fill="#23243d"/>
<rect x="17.20" y="99.60" width="15" height="14.8" rx="2.6" fill="#23243d"/>
<rect x="34.54" y="99.60" width="15" height="14.8" rx="2.6" fill="#8d7ef6"/>
<rect x="51.88" y="99.60" width="15" height="14.8" rx="2.6" fill="#23243d"/>
<rect x="69.22" y="99.60" width="15" height="14.8" rx="2.6" fill="#23243d"/>
<rect x="86.56" y="99.60" width="15" height="14.8" rx="2.6" fill="#23243d"/>
<rect x="103.90" y="99.60" width="15" height="14.8" rx="2.6" fill="#bdb2fc"/>
<rect x="121.24" y="99.60" width="15" height="14.8" rx="2.6" fill="#23243d"/>
<rect x="138.58" y="99.60" width="15" height="14.8" rx="2.6" fill="#bdb2fc"/>
<rect x="155.92" y="99.60" width="15" height="14.8" rx="2.6" fill="#bdb2fc"/>
<rect x="173.26" y="99.60" width="15" height="14.8" rx="2.6" fill="#8d7ef6"/>
<rect x="190.60" y="99.60" width="15" height="14.8" rx="2.6" fill="#bdb2fc"/>
<rect x="207.94" y="99.60" width="15" height="14.8" rx="2.6" fill="#23243d"/>
<rect x="225.28" y="99.60" width="15" height="14.8" rx="2.6" fill="#23243d"/>
<rect x="242.62" y="99.60" width="15" height="14.8" rx="2.6" fill="#8d7ef6"/>
<rect x="259.96" y="99.60" width="15" height="14.8" rx="2.6" fill="#23243d"/>
<rect x="277.30" y="99.60" width="15" height="14.8" rx="2.6" fill="#8d7ef6"/>
<rect x="294.64" y="99.60" width="15" height="14.8" rx="2.6" fill="#f6f6f6"/>
<rect x="311.98" y="99.60" width="15" height="14.8" rx="2.6" fill="#bdb2fc"/>
<rect x="17.20" y="116.82" width="15" height="14.8" rx="2.6" fill="#23243d"/>
<rect x="34.54" y="116.82" width="15" height="14.8" rx="2.6" fill="#8d7ef6"/>
<rect x="51.88" y="116.82" width="15" height="14.8" rx="2.6" fill="#23243d"/>
<rect x="69.22" y="116.82" width="15" height="14.8" rx="2.6" fill="#23243d"/>
<rect x="86.56" y="116.82" width="15" height="14.8" rx="2.6" fill="#23243d"/>
<rect x="103.90" y="116.82" width="15" height="14.8" rx="2.6" fill="#23243d"/>
<rect x="121.24" y="116.82" width="15" height="14.8" rx="2.6" fill="#23243d"/>
<rect x="138.58" y="116.82" width="15" height="14.8" rx="2.6" fill="#23243d"/>
<rect x="155.92" y="116.82" width="15" height="14.8" rx="2.6" fill="#23243d"/>
<rect x="173.26" y="116.82" width="15" height="14.8" rx="2.6" fill="#bdb2fc"/>
<rect x="190.60" y="116.82" width="15" height="14.8" rx="2.6" fill="#23243d"/>
<rect x="207.94" y="116.82" width="15" height="14.8" rx="2.6" fill="#8d7ef6"/>
<rect x="225.28" y="116.82" width="15" height="14.8" rx="2.6" fill="#23243d"/>
<rect x="242.62" y="116.82" width="15" height="14.8" rx="2.6" fill="#f6f6f6"/>
<rect x="259.96" y="116.82" width="15" height="14.8" rx="2.6" fill="#bdb2fc"/>
<rect x="277.30" y="116.82" width="15" height="14.8" rx="2.6" fill="#23243d"/>
<rect x="294.64" y="116.82" width="15" height="14.8" rx="2.6" fill="#23243d"/>
<rect x="311.98" y="116.82" width="15" height="14.8" rx="2.6" fill="#23243d"/>
<rect x="17.20" y="134.04" width="15" height="14.8" rx="2.6" fill="#bdb2fc"/>
<rect x="34.54" y="134.04" width="15" height="14.8" rx="2.6" fill="#f6f6f6"/>
<rect x="51.88" y="134.04" width="15" height="14.8" rx="2.6" fill="#bdb2fc"/>
<rect x="69.22" y="134.04" width="15" height="14.8" rx="2.6" fill="#8d7ef6"/>
<rect x="86.56" y="134.04" width="15" height="14.8" rx="2.6" fill="#23243d"/>
<rect x="103.90" y="134.04" width="15" height="14.8" rx="2.6" fill="#23243d"/>
<rect x="121.24" y="134.04" width="15" height="14.8" rx="2.6" fill="#bdb2fc"/>
<rect x="138.58" y="134.04" width="15" height="14.8" rx="2.6" fill="#23243d"/>
<rect x="155.92" y="134.04" width="15" height="14.8" rx="2.6" fill="#bdb2fc"/>
<rect x="173.26" y="134.04" width="15" height="14.8" rx="2.6" fill="#f6f6f6"/>
<rect x="190.60" y="134.04" width="15" height="14.8" rx="2.6" fill="#23243d"/>
<rect x="207.94" y="134.04" width="15" height="14.8" rx="2.6" fill="#23243d"/>
<rect x="225.28" y="134.04" width="15" height="14.8" rx="2.6" fill="#23243d"/>
<rect x="242.62" y="134.04" width="15" height="14.8" rx="2.6" fill="#23243d"/>
<rect x="259.96" y="134.04" width="15" height="14.8" rx="2.6" fill="#23243d"/>
<rect x="277.30" y="134.04" width="15" height="14.8" rx="2.6" fill="#f6f6f6"/>
<rect x="294.64" y="134.04" width="15" height="14.8" rx="2.6" fill="#8d7ef6"/>
<rect x="311.98" y="134.04" width="15" height="14.8" rx="2.6" fill="#f6f6f6"/>
<rect x="17.20" y="151.26" width="15" height="14.8" rx="2.6" fill="#23243d"/>
<rect x="34.54" y="151.26" width="15" height="14.8" rx="2.6" fill="#23243d"/>
<rect x="51.88" y="151.26" width="15" height="14.8" rx="2.6" fill="#23243d"/>
<rect x="69.22" y="151.26" width="15" height="14.8" rx="2.6" fill="#23243d"/>
<rect x="86.56" y="151.26" width="15" height="14.8" rx="2.6" fill="#f6f6f6"/>
<rect x="103.90" y="151.26" width="15" height="14.8" rx="2.6" fill="#23243d"/>
<rect x="121.24" y="151.26" width="15" height="14.8" rx="2.6" fill="#23243d"/>
<rect x="138.58" y="151.26" width="15" height="14.8" rx="2.6" fill="#23243d"/>
<rect x="155.92" y="151.26" width="15" height="14.8" rx="2.6" fill="#f6f6f6"/>
<rect x="173.26" y="151.26" width="15" height="14.8" rx="2.6" fill="#bdb2fc"/>
<rect x="190.60" y="151.26" width="15" height="14.8" rx="2.6" fill="#23243d"/>
<rect x="207.94" y="151.26" width="15" height="14.8" rx="2.6" fill="#23243d"/>
<rect x="225.28" y="151.26" width="15" height="14.8" rx="2.6" fill="#f6f6f6"/>
<rect x="242.62" y="151.26" width="15" height="14.8" rx="2.6" fill="#23243d"/>
<rect x="259.96" y="151.26" width="15" height="14.8" rx="2.6" fill="#23243d"/>
<rect x="277.30" y="151.26" width="15" height="14.8" rx="2.6" fill="#23243d"/>
<rect x="294.64" y="151.26" width="15" height="14.8" rx="2.6" fill="#bdb2fc"/>
<rect x="311.98" y="151.26" width="15" height="14.8" rx="2.6" fill="#23243d"/>
<rect x="17.20" y="168.48" width="15" height="14.8" rx="2.6" fill="#23243d"/>
<rect x="34.54" y="168.48" width="15" height="14.8" rx="2.6" fill="#23243d"/>
<rect x="51.88" y="168.48" width="15" height="14.8" rx="2.6" fill="#23243d"/>
<rect x="69.22" y="168.48" width="15" height="14.8" rx="2.6" fill="#23243d"/>
<rect x="86.56" y="168.48" width="15" height="14.8" rx="2.6" fill="#f6f6f6"/>
<rect x="103.90" y="168.48" width="15" height="14.8" rx="2.6" fill="#23243d"/>
<rect x="121.24" y="168.48" width="15" height="14.8" rx="2.6" fill="#23243d"/>
<rect x="138.58" y="168.48" width="15" height="14.8" rx="2.6" fill="#23243d"/>
<rect x="155.92" y="168.48" width="15" height="14.8" rx="2.6" fill="#23243d"/>
<rect x="173.26" y="168.48" width="15" height="14.8" rx="2.6" fill="#23243d"/>
<rect x="190.60" y="168.48" width="15" height="14.8" rx="2.6" fill="#23243d"/>
<rect x="207.94" y="168.48" width="15" height="14.8" rx="2.6" fill="#f6f6f6"/>
<rect x="225.28" y="168.48" width="15" height="14.8" rx="2.6" fill="#23243d"/>
<rect x="242.62" y="168.48" width="15" height="14.8" rx="2.6" fill="#23243d"/>
<rect x="259.96" y="168.48" width="15" height="14.8" rx="2.6" fill="#bdb2fc"/>
<rect x="277.30" y="168.48" width="15" height="14.8" rx="2.6" fill="#23243d"/>
<rect x="294.64" y="168.48" width="15" height="14.8" rx="2.6" fill="#23243d"/>
<rect x="311.98" y="168.48" width="15" height="14.8" rx="2.6" fill="#23243d"/>
</svg>
<div class="t" style="left:648.30px;top:486.60px;font-size:9.3px;color:#8f8f97;font-weight:normal;letter-spacing:0px;transform:translateX(-100%);">6 pm</div>
<div class="t" style="left:648.30px;top:521.08px;font-size:9.3px;color:#8f8f97;font-weight:normal;letter-spacing:0px;transform:translateX(-100%);">4 pm</div>
<div class="t" style="left:648.30px;top:555.56px;font-size:9.3px;color:#8f8f97;font-weight:normal;letter-spacing:0px;transform:translateX(-100%);">2 pm</div>
<div class="t" style="left:648.30px;top:590.04px;font-size:9.3px;color:#8f8f97;font-weight:normal;letter-spacing:0px;transform:translateX(-100%);">12 am</div>
<div class="t" style="left:648.30px;top:624.52px;font-size:9.3px;color:#8f8f97;font-weight:normal;letter-spacing:0px;transform:translateX(-100%);">10 am</div>
<div class="t" style="left:679.70px;top:663.70px;font-size:9.2px;color:#8c8c94;font-weight:normal;letter-spacing:0px;transform:translateX(-50%);">Mon</div>
<div class="t" style="left:723.90px;top:663.70px;font-size:9.2px;color:#8c8c94;font-weight:normal;letter-spacing:0px;transform:translateX(-50%);">Tue</div>
<div class="t" style="left:768.10px;top:663.70px;font-size:9.2px;color:#8c8c94;font-weight:normal;letter-spacing:0px;transform:translateX(-50%);">Wed</div>
<div class="t" style="left:812.30px;top:663.70px;font-size:9.2px;color:#8c8c94;font-weight:normal;letter-spacing:0px;transform:translateX(-50%);">Thu</div>
<div class="t" style="left:856.50px;top:663.70px;font-size:9.2px;color:#8c8c94;font-weight:normal;letter-spacing:0px;transform:translateX(-50%);">Fri</div>
<div class="t" style="left:900.70px;top:663.70px;font-size:9.2px;color:#8c8c94;font-weight:normal;letter-spacing:0px;transform:translateX(-50%);">Sat</div>
<div class="t" style="left:944.90px;top:663.70px;font-size:9.2px;color:#8c8c94;font-weight:normal;letter-spacing:0px;transform:translateX(-50%);">Sun</div>
<div class="t" style="left:56.20px;top:448.50px;font-size:12px;color:#ececec;font-weight:normal;letter-spacing:0px;-webkit-text-stroke:0.18px #ececec;">Total Sales</div>
<div class="pill" style="left:537px;top:443px;width:58px;height:22px;border-radius:11px;background:#14141c;border:1px solid #23232c"></div>
<div class="t" style="left:547.00px;top:450.20px;font-size:8.6px;color:#e6e6e6;font-weight:normal;letter-spacing:-0.05px;-webkit-text-stroke:0.3px #e6e6e6;">Month</div>
<svg class="a" style="left:574px;top:450px" width="10" height="8"><polyline points="1.5,2 4.5,5 7.5,2" fill="none" stroke="#e6e6e6" stroke-width="1.2"/></svg>
<div class="t" style="left:56px;top:480.20px;font-size:24.5px;font-weight:bold;color:#f6f6f6;letter-spacing:-0.05px">$650,567.<span style="font-size:13.5px;font-weight:normal;color:#55555e;letter-spacing:0">11</span></div>
<div class="t" style="left:184.30px;top:494.80px;font-size:9.6px;color:#76d56f;font-weight:normal;letter-spacing:-0.1px;-webkit-text-stroke:0.25px #76d56f;">+2.1%</div>
<div class="t" style="left:72.30px;top:525.10px;font-size:9.3px;color:#8c8c94;font-weight:normal;letter-spacing:0px;transform:translateX(-100%);">110</div>
<div class="t" style="left:72.30px;top:555.40px;font-size:9.3px;color:#8c8c94;font-weight:normal;letter-spacing:0px;transform:translateX(-100%);">100</div>
<div class="t" style="left:72.30px;top:585.40px;font-size:9.3px;color:#8c8c94;font-weight:normal;letter-spacing:0px;transform:translateX(-100%);">90</div>
<div class="t" style="left:72.30px;top:615.40px;font-size:9.3px;color:#8c8c94;font-weight:normal;letter-spacing:0px;transform:translateX(-100%);">80</div>
<div class="t" style="left:72.30px;top:645.70px;font-size:9.3px;color:#8c8c94;font-weight:normal;letter-spacing:0px;transform:translateX(-100%);">70</div>
<svg class="a" style="left:0;top:0" width="1024" height="768">
<defs><linearGradient id="areag" x1="0" y1="0" x2="0" y2="1"><stop offset="0" stop-color="#8070e0" stop-opacity=".4"/><stop offset=".45" stop-color="#7060d0" stop-opacity=".24"/><stop offset=".8" stop-color="#5a4aa8" stop-opacity=".08"/><stop offset="1" stop-color="#5a4aa8" stop-opacity=".03"/></linearGradient><pattern id="dots" width="4.85" height="4.85" patternUnits="userSpaceOnUse" x="81.5" y="0"><rect x="0" y="0" width="0.7" height="4.85" fill="#8a7ae8" fill-opacity=".07"/><rect x="-0.1" y="2" width="1" height="1" fill="#a898ff" fill-opacity=".26"/></pattern><filter id="halo"><feGaussianBlur stdDeviation="1.2"/></filter></defs>
<line x1="81.5" y1="528.7" x2="593" y2="528.7" stroke="#2a2a34" stroke-width="1" stroke-dasharray="3 3"/>
<line x1="81.5" y1="559" x2="593" y2="559" stroke="#2a2a34" stroke-width="1" stroke-dasharray="3 3"/>
<line x1="81.5" y1="589" x2="593" y2="589" stroke="#2a2a34" stroke-width="1" stroke-dasharray="3 3"/>
<line x1="81.5" y1="619" x2="593" y2="619" stroke="#2a2a34" stroke-width="1" stroke-dasharray="3 3"/>
<line x1="81.5" y1="649.3" x2="593" y2="649.3" stroke="#24242d" stroke-width="1"/>
<path d="M81.50,593.80 C83.62,593.80 90.92,593.07 94.20,593.80 C97.48,594.53 98.85,596.77 101.20,598.20 C103.55,599.63 105.95,602.30 108.30,602.40 C110.65,602.50 112.45,600.30 115.30,598.80 C118.15,597.30 122.87,594.07 125.40,593.40 C127.93,592.73 128.82,593.23 130.50,594.80 C132.18,596.37 133.82,600.62 135.50,602.80 C137.18,604.98 138.75,606.78 140.60,607.90 C142.45,609.02 144.42,609.83 146.60,609.50 C148.78,609.17 150.17,608.35 153.70,605.90 C157.23,603.45 163.43,597.83 167.80,594.80 C172.17,591.77 176.20,589.62 179.90,587.70 C183.60,585.78 187.32,583.87 190.00,583.30 C192.68,582.73 193.65,583.07 196.00,584.30 C198.35,585.53 201.77,588.78 204.10,590.70 C206.43,592.62 207.33,594.55 210.00,595.80 C212.67,597.05 216.73,598.37 220.10,598.20 C223.47,598.03 225.83,596.95 230.20,594.80 C234.57,592.65 242.95,587.32 246.30,585.30 C249.65,583.28 248.28,585.15 250.30,582.70 C252.32,580.25 256.03,573.07 258.40,570.60 C260.77,568.13 261.80,570.93 264.50,567.90 C267.20,564.87 271.58,556.33 274.60,552.40 C277.62,548.47 279.92,545.07 282.60,544.30 C285.28,543.53 288.00,545.68 290.70,547.80 C293.40,549.92 295.78,553.43 298.80,557.00 C301.82,560.57 305.45,566.43 308.80,569.20 C312.15,571.97 315.53,571.87 318.90,573.60 C322.27,575.33 326.13,576.07 329.00,579.60 C331.87,583.13 333.43,591.10 336.10,594.80 C338.77,598.50 341.67,598.68 345.00,601.80 C348.33,604.92 352.73,614.17 356.10,613.50 C359.47,612.83 361.67,603.52 365.20,597.80 C368.73,592.08 372.93,580.95 377.30,579.20 C381.67,577.45 387.03,589.58 391.40,587.30 C395.77,585.02 399.97,570.40 403.50,565.50 C407.03,560.60 409.57,558.23 412.60,557.90 C415.63,557.57 418.85,561.05 421.70,563.50 C424.55,565.95 427.02,569.75 429.70,572.60 C432.38,575.45 435.33,579.93 437.80,580.60 C440.27,581.27 441.13,578.78 444.50,576.60 C447.87,574.42 453.73,567.50 458.00,567.50 C462.27,567.50 466.25,573.50 470.10,576.60 C473.95,579.70 477.42,585.60 481.10,586.10 C484.78,586.60 488.17,583.53 492.20,579.60 C496.23,575.67 501.60,566.53 505.30,562.50 C509.00,558.47 511.88,555.90 514.40,555.40 C516.92,554.90 518.05,557.13 520.40,559.50 C522.75,561.87 524.97,566.32 528.50,569.60 C532.03,572.88 537.23,577.70 541.60,579.20 C545.97,580.70 551.17,579.37 554.70,578.60 C558.23,577.83 556.75,578.70 562.80,574.60 C568.85,570.50 586.30,557.43 591.00,554.00 L591,649 L81.5,649 Z" fill="url(#areag)"/>
<path d="M81.50,593.80 C83.62,593.80 90.92,593.07 94.20,593.80 C97.48,594.53 98.85,596.77 101.20,598.20 C103.55,599.63 105.95,602.30 108.30,602.40 C110.65,602.50 112.45,600.30 115.30,598.80 C118.15,597.30 122.87,594.07 125.40,593.40 C127.93,592.73 128.82,593.23 130.50,594.80 C132.18,596.37 133.82,600.62 135.50,602.80 C137.18,604.98 138.75,606.78 140.60,607.90 C142.45,609.02 144.42,609.83 146.60,609.50 C148.78,609.17 150.17,608.35 153.70,605.90 C157.23,603.45 163.43,597.83 167.80,594.80 C172.17,591.77 176.20,589.62 179.90,587.70 C183.60,585.78 187.32,583.87 190.00,583.30 C192.68,582.73 193.65,583.07 196.00,584.30 C198.35,585.53 201.77,588.78 204.10,590.70 C206.43,592.62 207.33,594.55 210.00,595.80 C212.67,597.05 216.73,598.37 220.10,598.20 C223.47,598.03 225.83,596.95 230.20,594.80 C234.57,592.65 242.95,587.32 246.30,585.30 C249.65,583.28 248.28,585.15 250.30,582.70 C252.32,580.25 256.03,573.07 258.40,570.60 C260.77,568.13 261.80,570.93 264.50,567.90 C267.20,564.87 271.58,556.33 274.60,552.40 C277.62,548.47 279.92,545.07 282.60,544.30 C285.28,543.53 288.00,545.68 290.70,547.80 C293.40,549.92 295.78,553.43 298.80,557.00 C301.82,560.57 305.45,566.43 308.80,569.20 C312.15,571.97 315.53,571.87 318.90,573.60 C322.27,575.33 326.13,576.07 329.00,579.60 C331.87,583.13 333.43,591.10 336.10,594.80 C338.77,598.50 341.67,598.68 345.00,601.80 C348.33,604.92 352.73,614.17 356.10,613.50 C359.47,612.83 361.67,603.52 365.20,597.80 C368.73,592.08 372.93,580.95 377.30,579.20 C381.67,577.45 387.03,589.58 391.40,587.30 C395.77,585.02 399.97,570.40 403.50,565.50 C407.03,560.60 409.57,558.23 412.60,557.90 C415.63,557.57 418.85,561.05 421.70,563.50 C424.55,565.95 427.02,569.75 429.70,572.60 C432.38,575.45 435.33,579.93 437.80,580.60 C440.27,581.27 441.13,578.78 444.50,576.60 C447.87,574.42 453.73,567.50 458.00,567.50 C462.27,567.50 466.25,573.50 470.10,576.60 C473.95,579.70 477.42,585.60 481.10,586.10 C484.78,586.60 488.17,583.53 492.20,579.60 C496.23,575.67 501.60,566.53 505.30,562.50 C509.00,558.47 511.88,555.90 514.40,555.40 C516.92,554.90 518.05,557.13 520.40,559.50 C522.75,561.87 524.97,566.32 528.50,569.60 C532.03,572.88 537.23,577.70 541.60,579.20 C545.97,580.70 551.17,579.37 554.70,578.60 C558.23,577.83 556.75,578.70 562.80,574.60 C568.85,570.50 586.30,557.43 591.00,554.00 L591,649 L81.5,649 Z" fill="url(#dots)"/>
<path d="M81.50,593.80 C83.62,593.80 90.92,593.07 94.20,593.80 C97.48,594.53 98.85,596.77 101.20,598.20 C103.55,599.63 105.95,602.30 108.30,602.40 C110.65,602.50 112.45,600.30 115.30,598.80 C118.15,597.30 122.87,594.07 125.40,593.40 C127.93,592.73 128.82,593.23 130.50,594.80 C132.18,596.37 133.82,600.62 135.50,602.80 C137.18,604.98 138.75,606.78 140.60,607.90 C142.45,609.02 144.42,609.83 146.60,609.50 C148.78,609.17 150.17,608.35 153.70,605.90 C157.23,603.45 163.43,597.83 167.80,594.80 C172.17,591.77 176.20,589.62 179.90,587.70 C183.60,585.78 187.32,583.87 190.00,583.30 C192.68,582.73 193.65,583.07 196.00,584.30 C198.35,585.53 201.77,588.78 204.10,590.70 C206.43,592.62 207.33,594.55 210.00,595.80 C212.67,597.05 216.73,598.37 220.10,598.20 C223.47,598.03 225.83,596.95 230.20,594.80 C234.57,592.65 242.95,587.32 246.30,585.30 C249.65,583.28 248.28,585.15 250.30,582.70 C252.32,580.25 256.03,573.07 258.40,570.60 C260.77,568.13 261.80,570.93 264.50,567.90 C267.20,564.87 271.58,556.33 274.60,552.40 C277.62,548.47 279.92,545.07 282.60,544.30 C285.28,543.53 288.00,545.68 290.70,547.80 C293.40,549.92 295.78,553.43 298.80,557.00 C301.82,560.57 305.45,566.43 308.80,569.20 C312.15,571.97 315.53,571.87 318.90,573.60 C322.27,575.33 326.13,576.07 329.00,579.60 C331.87,583.13 333.43,591.10 336.10,594.80 C338.77,598.50 341.67,598.68 345.00,601.80 C348.33,604.92 352.73,614.17 356.10,613.50 C359.47,612.83 361.67,603.52 365.20,597.80 C368.73,592.08 372.93,580.95 377.30,579.20 C381.67,577.45 387.03,589.58 391.40,587.30 C395.77,585.02 399.97,570.40 403.50,565.50 C407.03,560.60 409.57,558.23 412.60,557.90 C415.63,557.57 418.85,561.05 421.70,563.50 C424.55,565.95 427.02,569.75 429.70,572.60 C432.38,575.45 435.33,579.93 437.80,580.60 C440.27,581.27 441.13,578.78 444.50,576.60 C447.87,574.42 453.73,567.50 458.00,567.50 C462.27,567.50 466.25,573.50 470.10,576.60 C473.95,579.70 477.42,585.60 481.10,586.10 C484.78,586.60 488.17,583.53 492.20,579.60 C496.23,575.67 501.60,566.53 505.30,562.50 C509.00,558.47 511.88,555.90 514.40,555.40 C516.92,554.90 518.05,557.13 520.40,559.50 C522.75,561.87 524.97,566.32 528.50,569.60 C532.03,572.88 537.23,577.70 541.60,579.20 C545.97,580.70 551.17,579.37 554.70,578.60 C558.23,577.83 556.75,578.70 562.80,574.60 C568.85,570.50 586.30,557.43 591.00,554.00" fill="none" stroke="#8f80f5" stroke-width="1.6" stroke-linejoin="round"/>
<path d="M81.50,557.50 C82.27,557.67 84.50,558.78 86.10,558.50 C87.70,558.22 89.25,556.92 91.10,555.80 C92.95,554.68 94.83,552.93 97.20,551.80 C99.57,550.67 102.28,549.50 105.30,549.00 C108.32,548.50 111.43,548.73 115.30,548.80 C119.17,548.87 125.47,548.80 128.50,549.40 C131.53,550.00 131.32,550.72 133.50,552.40 C135.68,554.08 139.08,557.55 141.60,559.50 C144.12,561.45 146.25,563.43 148.60,564.10 C150.95,564.77 153.33,563.67 155.70,563.50 C158.07,563.33 160.45,562.83 162.80,563.10 C165.15,563.37 167.28,564.77 169.80,565.10 C172.32,565.43 175.20,565.43 177.90,565.10 C180.60,564.77 183.32,563.63 186.00,563.10 C188.68,562.57 191.65,561.50 194.00,561.90 C196.35,562.30 197.57,563.95 200.10,565.50 C202.63,567.05 206.53,570.70 209.20,571.20 C211.87,571.70 213.62,570.02 216.10,568.50 C218.58,566.98 221.75,563.60 224.10,562.10 C226.45,560.60 227.50,561.55 230.20,559.50 C232.90,557.45 236.95,553.00 240.30,549.80 C243.65,546.60 247.45,544.07 250.30,540.30 C253.15,536.53 255.10,530.83 257.40,527.20 C259.70,523.57 262.25,519.35 264.10,518.50 C265.95,517.65 266.75,517.63 268.50,522.10 C270.25,526.57 272.58,539.13 274.60,545.30 C276.62,551.47 278.58,557.25 280.60,559.10 C282.62,560.95 283.67,558.87 286.70,556.40 C289.73,553.93 294.10,545.53 298.80,544.30 C303.50,543.07 310.87,548.75 314.90,549.00 C318.93,549.25 319.97,545.23 323.00,545.80 C326.03,546.37 329.40,549.62 333.10,552.40 C336.80,555.18 341.53,562.33 345.20,562.50 C348.87,562.67 351.27,556.60 355.10,553.40 C358.93,550.20 363.83,544.13 368.20,543.30 C372.57,542.47 378.10,547.55 381.30,548.40 C384.50,549.25 385.05,546.55 387.40,548.40 C389.75,550.25 392.88,557.92 395.40,559.50 C397.92,561.08 400.13,557.40 402.50,557.90 C404.87,558.40 406.75,560.28 409.60,562.50 C412.45,564.72 415.92,571.70 419.60,571.20 C423.28,570.70 427.55,563.47 431.70,559.50 C435.85,555.53 441.13,548.75 444.50,547.40 C447.87,546.05 448.32,550.47 451.90,551.40 C455.48,552.33 461.47,553.83 466.00,553.00 C470.53,552.17 474.73,546.33 479.10,546.40 C483.47,546.47 487.83,551.05 492.20,553.40 C496.57,555.75 501.77,558.82 505.30,560.50 C508.83,562.18 511.22,563.33 513.40,563.50 C515.58,563.67 515.88,564.35 518.40,561.50 C520.92,558.65 525.80,549.33 528.50,546.40 C531.20,543.47 530.57,543.90 534.60,543.90 C538.63,543.90 547.67,547.10 552.70,546.40 C557.73,545.70 560.43,540.62 564.80,539.70 C569.17,538.78 574.37,542.32 578.90,540.90 C583.43,539.48 589.82,532.82 592.00,531.20" fill="none" stroke="#d2f36f" stroke-width="1.5" stroke-linejoin="round"/>
<line x1="445.3" y1="483" x2="445.3" y2="649" stroke="#f4f4f4" stroke-width="1.3"/>
<circle cx="444.8" cy="547.6" r="7" fill="#d2f36f" fill-opacity=".35"/><circle cx="444.8" cy="547.6" r="4.4" fill="#d6f77a"/>
<circle cx="445.3" cy="576.3" r="7" fill="#8f80f5" fill-opacity=".35"/><circle cx="445.3" cy="576.3" r="4.4" fill="#9d8ff8"/>
</svg>
<div class="pill" style="left:379px;top:486px;width:59px;height:23px;border-radius:12px;background:#14141c;border:1px solid #202029"></div>
<div class="a" style="left:386.6px;top:495.4px;width:4.4px;height:4.4px;border-radius:50%;background:#d6f77a"></div>
<div class="t" style="left:393.50px;top:492.80px;font-size:9.4px;color:#f0f0f0;font-weight:normal;letter-spacing:-0.05px;-webkit-text-stroke:0.2px #f0f0f0;">$112,324</div>
<div class="pill" style="left:451px;top:500px;width:57px;height:23px;border-radius:12px;background:#14141c;border:1px solid #202029"></div>
<div class="a" style="left:458.6px;top:509px;width:4.4px;height:4.4px;border-radius:50%;background:#9d8ff8"></div>
<div class="t" style="left:465.80px;top:506.60px;font-size:9.4px;color:#f0f0f0;font-weight:normal;letter-spacing:0.1px;-webkit-text-stroke:0.2px #f0f0f0;">$92,324</div>
<div class="t" style="left:97.30px;top:663.80px;font-size:8.8px;color:#8a8a92;font-weight:normal;letter-spacing:0px;transform:translateX(-50%);">4</div>
<div class="t" style="left:138.20px;top:663.80px;font-size:8.8px;color:#8a8a92;font-weight:normal;letter-spacing:0px;transform:translateX(-50%);">8</div>
<div class="t" style="left:180.30px;top:663.80px;font-size:8.8px;color:#8a8a92;font-weight:normal;letter-spacing:0px;transform:translateX(-50%);">12</div>
<div class="t" style="left:223.00px;top:663.80px;font-size:8.8px;color:#8a8a92;font-weight:normal;letter-spacing:0px;transform:translateX(-50%);">16</div>
<div class="t" style="left:266.60px;top:663.80px;font-size:8.8px;color:#8a8a92;font-weight:normal;letter-spacing:0px;transform:translateX(-50%);">20</div>
<div class="t" style="left:311.60px;top:663.80px;font-size:8.8px;color:#8a8a92;font-weight:normal;letter-spacing:0px;transform:translateX(-50%);">24</div>
<div class="t" style="left:356.40px;top:663.80px;font-size:8.8px;color:#8a8a92;font-weight:normal;letter-spacing:0px;transform:translateX(-50%);">28</div>
<div class="t" style="left:401.20px;top:663.80px;font-size:8.8px;color:#8a8a92;font-weight:normal;letter-spacing:0px;transform:translateX(-50%);">32</div>
<div class="pill" style="left:429.7px;top:659px;width:31px;height:17.5px;border-radius:9px;background:#14141c;border:1px solid #25252d"></div>
<div class="t" style="left:445.20px;top:663.80px;font-size:8.8px;color:#f4f4f4;font-weight:bold;letter-spacing:0px;transform:translateX(-50%);">34</div>
<div class="t" style="left:489.50px;top:663.80px;font-size:8.8px;color:#8a8a92;font-weight:normal;letter-spacing:0px;transform:translateX(-50%);">36</div>
<div class="t" style="left:534.30px;top:663.80px;font-size:8.8px;color:#8a8a92;font-weight:normal;letter-spacing:0px;transform:translateX(-50%);">40</div>
<div class="t" style="left:580.00px;top:663.80px;font-size:8.8px;color:#8a8a92;font-weight:normal;letter-spacing:0px;transform:translateX(-50%);">44</div>
<div class="a" style="left:800px;top:126px;width:179px;height:297px;border-radius:12px;background:#d7f87b;overflow:hidden">
<svg width="179" height="297" style="position:absolute;left:0;top:0">
<path d="M23,152.8 L44.4,128.3 L65.8,148.2 L91.8,125.2 L110,145 L65.8,192.6 Z" fill="#ccee6d"/>
<path d="M0,171 L36.7,217 L0,262 Z" fill="#c9eb6a"/>
<path d="M0,262 L40,220 L75,255 L40,297 L0,297Z" fill="#d3f474" opacity=".6"/>
<!-- shirt -->
<path d="M84,189 C92,188 100,190 106,195 C112,201 130,202 138,190 C148,184 160,180 167,180 L180,190 L180,297 L64,297 C64,270 64,245 66,230 C68,218 74,200 84,189 Z" fill="#f3f3f3"/>
<path d="M84,189 C76,200 70,215 67,232 C65,255 65,280 65,297 L73,297 C72,270 72,245 75,225 C77,210 80,198 84,189Z" fill="#e2e2e2"/>
<path d="M106,195 C114,203 132,204 138,190 C132,199 114,200 106,195Z" fill="#d8d8d8"/>
<!-- neck -->
<path d="M106,158 L137,156 L138,190 C132,199 114,200 106,195 Z" fill="#dba389"/>
<!-- hair -->
<path d="M123,79 C140,78 155,88 161,99 C168,113 169,135 170,158 C170,172 170,185 166,196 C160,205 150,211 138,211 C131,211 125,210 121,209 C128,203 134,195 137,185 L136,160 L108,160 C106,175 104,190 100,200 C95,207 86,211 74,212 C82,203 87,190 89,177 C90,160 90,135 92,117 C95,98 105,82 123,79 Z" fill="#47322a"/>
<path d="M150,96 C160,112 163,140 164,165 C164,185 158,198 148,207 C156,190 158,170 156,145 C155,125 153,108 150,96Z" fill="#66483a" opacity=".7"/>
<path d="M96,120 C96,145 95,175 88,203 C94,192 98,175 100,150 C101,135 99,125 96,120Z" fill="#66483a" opacity=".6"/>
<!-- face -->
<path d="M101,110 C103,99 112,95 122,95 C136,95 146,101 148,112 C150,125 149,143 143,154 C137,163 130,166 122,166 C114,165 107,160 104,152 C100,140 99,122 101,110Z" fill="#ebbba2"/>
<path d="M101,108 C104,97 114,93 124,93 C134,93 142,97 146,104 C136,99 120,99 111,105 C106,109 103,118 102,128 Z" fill="#47322a"/>
<ellipse cx="107.5" cy="124.5" rx="3.2" ry="1.4" fill="#4a3a34"/>
<ellipse cx="131" cy="123" rx="3.2" ry="1.4" fill="#4a3a34"/>
<path d="M103,119.5 Q108,117 112,119" fill="none" stroke="#47322a" stroke-width="1"/>
<path d="M126,117.5 Q131,115.5 136,117.5" fill="none" stroke="#47322a" stroke-width="1"/>
<path d="M111,146 Q121,155 131,146 Q121,149 111,146Z" fill="#fff"/>
<path d="M110,145.5 Q121,157 132,145.5" fill="none" stroke="#c87468" stroke-width="1.1"/>
<!-- right arm skin -->
<path d="M157,252 C166,250 175,251 180,254 L180,297 L156,297 C156,280 156,265 157,252Z" fill="#e6b29a"/>
<!-- forearm -->
<path d="M88,252 C112,260 136,268 156,276 L161,299 C140,292 116,282 96,272 Z" fill="#e9b59c"/>
<path d="M53,267 C60,275 66,286 70,297 L52,297 C51,288 51,278 53,267Z" fill="#e3ac93"/>
<!-- hands -->
<path d="M40,232 C46,228 58,229 70,233 C82,237 92,244 95,254 C97,264 90,271 78,272 C66,272 54,268 47,260 C42,253 38,242 40,232Z" fill="#ecbaa0"/>
<path d="M44,248 C54,252 66,254 78,253" fill="none" stroke="#c98f76" stroke-width=".8"/>
<path d="M46,257 C56,261 68,262 80,261" fill="none" stroke="#c98f76" stroke-width=".8"/>
<!-- phone -->
<path d="M29.3,210.7 L51,211.6 L65.2,231.4 L44.4,233.3 Z" fill="#2b2f38"/>
<path d="M31.2,212.4 L50,213.2 L62.5,230.2 L45.3,231.8 Z" fill="#a8c2dc"/>
</svg></div>

<div class="t" style="left:812.00px;top:140.30px;font-size:13.5px;color:#141414;font-weight:bold;letter-spacing:-0.08px;">Boost Your Business</div>
<div class="t" style="left:812.00px;top:158.00px;font-size:13.5px;color:#141414;font-weight:bold;letter-spacing:0.1px;">With Powerful Sales</div>
<div class="t" style="left:812.00px;top:175.70px;font-size:13.5px;color:#141414;font-weight:bold;letter-spacing:0.15px;">Analytics Insights!</div>
</body></html>
